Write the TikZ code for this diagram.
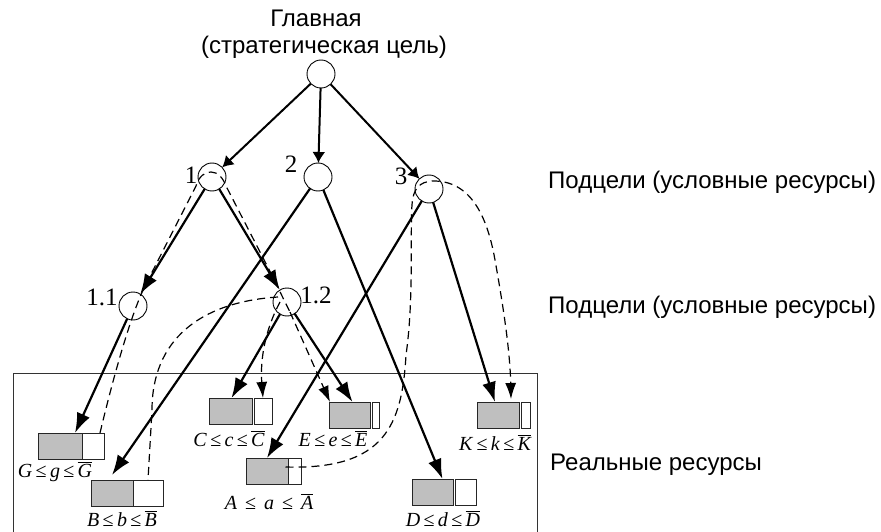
\documentclass[tikz,border=0pt]{standalone}
\usepackage{fontspec}
\setmainfont{Liberation Serif}
\newfontfamily\capfont{Liberation Sans}
\usetikzlibrary{arrows.meta}

% resource bar: gray part (name) and white part (name w)
% #1 name, #2 left, #3 top, #4 gray width, #5 gap, #6 white width
\newcommand\resbox[6]{%
  \node[resgray,minimum width=#4pt,anchor=north west] (#1) at (#2,#3) {};
  \node[reswhite,minimum width=#6pt,anchor=north west] (#1w) at ([xshift=#5pt]#1.north east) {};}
% bounds label  X <= x <= \bar X
\newcommand\bnd[3][\,]{\textit{#2}#1≤#1\textit{#3}#1≤#1$\overline{\mbox{\itshape #2}}$}

\begin{document}
\begin{tikzpicture}[x=1pt,y=-1pt,
  goal/.style={circle,draw,line width=0.9pt,minimum size=28pt,inner sep=0pt,outer sep=0pt},
  num/.style={font=\fontsize{25}{28}\selectfont,inner sep=0pt,anchor=base},
  caption/.style={font=\capfont\fontsize{24}{28}\selectfont,inner sep=0pt},
  bound/.style={font=\fontsize{20}{22}\selectfont,inner sep=0pt,anchor=base},
  resgray/.style={draw=black!85,fill=black!25,line width=1pt,minimum height=26pt,inner sep=0pt,outer sep=0pt},
  reswhite/.style={draw=black!85,fill=white,line width=1pt,minimum height=26pt,inner sep=0pt,outer sep=0pt},
  toptree/.style={line width=2pt,-{Latex[length=11pt,width=13pt]}},
  tree/.style={line width=2.2pt,-{Latex[length=20pt,width=14pt]}},
  flow/.style={line width=1.2pt,dash pattern=on 8pt off 5pt},
  flowarrow/.style={flow,-{Latex[length=16pt,width=11pt]}}]
\useasboundingbox (0,0) rectangle (881,532);

% frame around the real resources
\draw[line width=0.8pt,black!80] (13,373) rectangle (537,545);

% captions
\node[caption,anchor=base] (main1) at (316,27) {Главная};
\node[caption,anchor=base] (main2) at (324,54) {(стратегическая цель)};
\node[caption,anchor=base west] (lev1) at (548,188) {Подцели (условные ресурсы)};
\node[caption,anchor=base west] (lev2) at (548,313) {Подцели (условные ресурсы)};
\node[caption,anchor=base west] (lev3) at (550,470) {Реальные ресурсы};

% goal tree
\node[goal] (top) at (321,74) {};
\node[goal] (n1) at (212,177) {};
\node[goal] (n2) at (318,177) {};
\node[goal] (n3) at (429,189) {};
\node[goal] (n11) at (133,306) {};
\node[goal] (n12) at (287,302) {};
\node[num] (l1) at (191,183) {1};
\node[num] (l2) at (291,172) {2};
\node[num] (l3) at (401,185) {3};
\node[num] (l11) at (102,305) {1.1};
\node[num] (l12) at (316,303) {1.2};

% real resources
\resbox{G}{38}{433}{44}{0}{22}
\resbox{B}{91}{480}{42}{0}{30}
\resbox{C}{209}{398}{43}{2}{18}
\resbox{E}{329}{402}{41}{2.5}{7}
\resbox{K}{477}{402}{42}{2}{9}
\resbox{A}{246}{458}{42}{0}{13}
\resbox{D}{412}{479}{41}{2}{21}

\node[bound] (bG) at (55,477) {\bnd{G}{g}};
\node[bound] (bB) at (122,526) {\bnd{B}{b}};
\node[bound] (bC) at (229,446) {\bnd{C}{c}};
\node[bound] (bE) at (333,446) {\bnd{E}{e}};
\node[bound] (bK) at (495,450) {\bnd{K}{k}};
\node[bound] (bA) at (269,509) {\bnd[\hspace{0.4em}]{A}{a}};
\node[bound] (bD) at (443,526) {\bnd{D}{d}};

% goal decomposition
\draw[toptree] (top) -- (n1);
\draw[toptree] (top) -- (n2);
\draw[toptree] (top) -- (n3);
\draw[tree] (n1) -- (n11);
\draw[tree] (n1) -- (n12);
\draw[tree] (n11) -- ([xshift=15pt]G.north);
\draw[tree] (n2) -- ([yshift=5pt]B.north);
\draw[tree] (n12) -- ([xshift=1pt]C.north);
\draw[tree] (n12) -- ([xshift=3pt]E.north);
\draw[tree] (n2) -- ([xshift=10pt]D.north);
\draw[tree] (n3) -- (A.north);
\draw[tree] (n3) -- ([xshift=-3pt]K.north);

% resource flows
\coordinate (f1) at (196,186);
\coordinate (f2) at (226,186);
\coordinate (f3) at (412,205);
\draw[flow] ([xshift=7pt]Gw.north) .. controls (115,370) and (132,312) .. (145,286)
  -- (f1) .. controls (199,176) and (205,172) .. (211,172)
  .. controls (218,172) and (223,178) .. (f2) -- (276,283)
  .. controls (282,296) .. (290,312);
\draw[flowarrow] (290,312) -- ([xshift=1pt]E.north west);
\draw[flowarrow] (280,302) .. controls (265,330) and (260,360) .. (Cw.north);
\draw[flow] (278,297) .. controls (200,302) and (152,340) .. (152,410) -- (Bw.north);
\draw[flowarrow] ([xshift=-9pt,yshift=-9pt]Aw.north) .. controls (385,470) and (402,425) .. (406,355)
  .. controls (414,300) and (410,230) .. (f3)
  .. controls (413,188) and (420,182) .. (432,181)
  .. controls (470,180) and (487,215) .. (495,260)
  .. controls (503,305) and (510,350) .. ([xshift=-8pt,yshift=3pt]K.north east);
\end{tikzpicture}
\end{document}
